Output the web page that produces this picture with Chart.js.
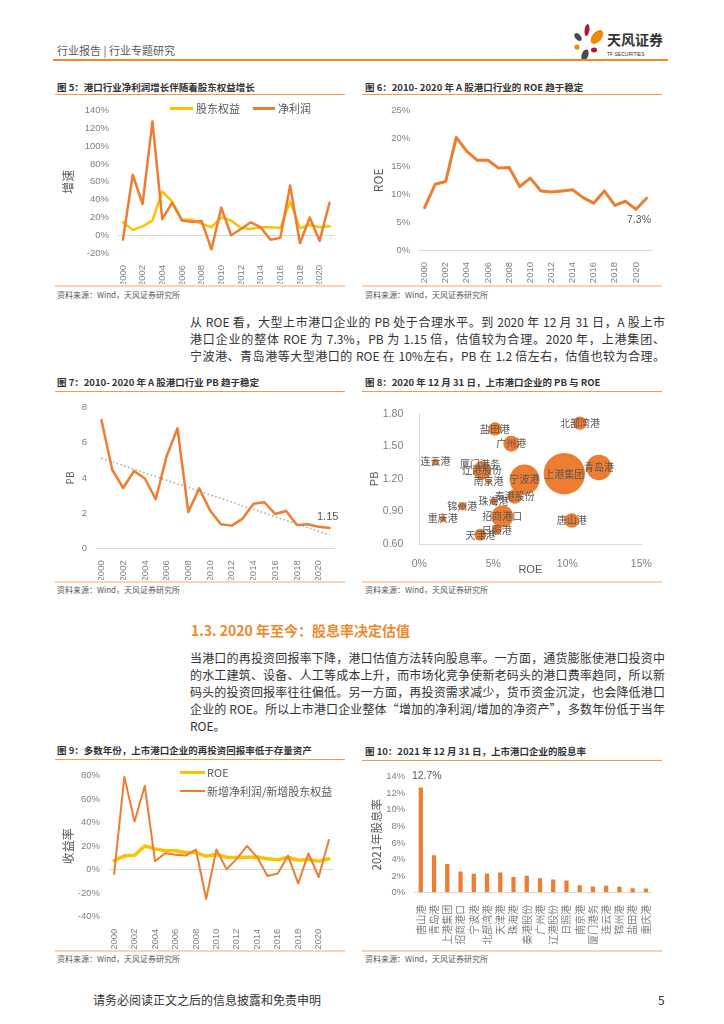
<!DOCTYPE html>
<html>
<head>
<meta charset="utf-8">
<script src="https://cdn.jsdelivr.net/npm/chart.js@4.4.1/dist/chart.umd.min.js"></script>
<style>
  body { margin: 0; width: 724px; height: 1024px; position: relative; background: #fff; overflow: hidden;
         font-family: "Noto Sans CJK SC", "Liberation Sans", sans-serif; color: #333; }
  .abs { position: absolute; white-space: nowrap; }
  .ftitle { position: absolute; white-space: nowrap; font-size: 9.5px; font-weight: bold; color: #333; line-height: 12px; height: 12px; }
  .tline { position: absolute; height: 1px; background: #F39A4B; }
  .bline { position: absolute; height: 2px; background: #F9D3B4; }
  .src { position: absolute; white-space: nowrap; font-size: 8px; color: #595959; line-height: 10px; }
  .para { position: absolute; left: 190px; width: 475px; font-size: 12px; line-height: 16px; height: 16px;
          text-align: justify; text-align-last: justify; color: #333; }
  .leg { position: absolute; white-space: nowrap; font-size: 11px; color: #595959; line-height: 14px; }
  .legline { position: absolute; }
  canvas { position: absolute; }
</style>
</head>
<body>

<svg class="abs" style="left:0;top:0" width="724" height="70">
  <ellipse cx="587" cy="30" rx="2.4" ry="6" fill="#B5173A" transform="rotate(8 587 30)"/>
  <ellipse cx="597" cy="37" rx="4.8" ry="8" fill="#F08A00" transform="rotate(40 597 37)"/>
  <ellipse cx="578" cy="37" rx="2.8" ry="4.5" fill="#4A4A4A" transform="rotate(-40 578 37)"/>
  <circle cx="577" cy="47" r="2.6" fill="#F08A00"/>
  <ellipse cx="594" cy="50" rx="3" ry="2.4" fill="#B5173A"/>
  <ellipse cx="585" cy="55" rx="3.3" ry="5.8" fill="#4A4A4A" transform="rotate(20 585 55)"/>
  <text x="607" y="45" font-size="14" font-weight="bold" fill="#333" font-family="Noto Sans CJK SC">天风证券</text>
  <text x="607" y="56" font-size="5" fill="#333" font-family="Liberation Sans">TF SECURITIES</text>
</svg>
<div class="abs" style="left:57px;top:43px;font-size:11px;line-height:14px;color:#595959">行业报告 | 行业专题研究</div>
<div class="abs" style="left:53px;top:59px;width:615px;height:2px;background:#F08B24"></div>

<div class="ftitle" style="left:57px;top:81px">图 5：港口行业净利润增长伴随着股东权益增长</div>
<div class="tline" style="left:55px;top:94px;width:290px"></div>
<div class="ftitle" style="left:365px;top:81px">图 6：2010- 2020 年 A 股港口行业的 ROE 趋于稳定</div>
<div class="tline" style="left:362px;top:94px;width:300px"></div>
<canvas id="c5" width="290" height="188" style="left:55px;top:96px;width:290px;height:188px"></canvas>
<canvas id="c6" width="300" height="188" style="left:362px;top:96px;width:300px;height:188px"></canvas>
<div class="legline" style="left:170px;top:107px;width:23px;height:2.5px;background:#FFC000"></div>
<div class="leg" style="left:196px;top:101px">股东权益</div>
<div class="legline" style="left:253px;top:107px;width:22px;height:2.5px;background:#ED7D31"></div>
<div class="leg" style="left:278px;top:101px">净利润</div>
<div class="bline" style="left:55px;top:285px;width:290px"></div>
<div class="bline" style="left:362px;top:285px;width:300px"></div>
<div class="src" style="left:57px;top:290px">资料来源：Wind，天风证券研究所</div>
<div class="src" style="left:365px;top:290px">资料来源：Wind，天风证券研究所</div>

<div class="para" style="top:314px">从 ROE 看，大型上市港口企业的 PB 处于合理水平。到 2020 年 12 月 31 日，A 股上市</div>
<div class="para" style="top:331px">港口企业的整体 ROE 为 7.3%，PB 为 1.15 倍，估值较为合理。2020 年，上港集团、</div>
<div class="para" style="top:348px">宁波港、青岛港等大型港口的 ROE 在 10%左右，PB 在 1.2 倍左右，估值也较为合理。</div>

<div class="ftitle" style="left:57px;top:376px">图 7：2010- 2020 年 A 股港口行业 PB 趋于稳定</div>
<div class="tline" style="left:55px;top:391px;width:290px"></div>
<div class="ftitle" style="left:365px;top:376px">图 8：2020 年 12 月 31 日，上市港口企业的 PB 与 ROE</div>
<div class="tline" style="left:362px;top:391px;width:300px"></div>
<canvas id="c7" width="290" height="187" style="left:55px;top:393px;width:290px;height:187px"></canvas>
<canvas id="c8" width="300" height="187" style="left:362px;top:393px;width:300px;height:187px"></canvas>
<div class="bline" style="left:55px;top:581px;width:290px"></div>
<div class="bline" style="left:362px;top:581px;width:300px"></div>
<div class="src" style="left:57px;top:585px">资料来源：Wind，天风证券研究所</div>
<div class="src" style="left:365px;top:585px">资料来源：Wind，天风证券研究所</div>

<div class="abs" style="left:191px;top:621px;font-size:14px;line-height:19px;font-weight:bold;color:#EE8A2E">1.3. 2020 年至今：股息率决定估值</div>
<div class="para" style="top:650px">当港口的再投资回报率下降，港口估值方法转向股息率。一方面，通货膨胀使港口投资中</div>
<div class="para" style="top:667px">的水工建筑、设备、人工等成本上升，而市场化竞争使新老码头的港口费率趋同，所以新</div>
<div class="para" style="top:684px">码头的投资回报率往往偏低。另一方面，再投资需求减少，货币资金沉淀，也会降低港口</div>
<div class="para" style="top:701px">企业的 ROE。所以上市港口企业整体“增加的净利润/增加的净资产”，多数年份低于当年</div>
<div class="para" style="top:718px;text-align-last:left">ROE。</div>

<div class="ftitle" style="left:57px;top:744px">图 9：多数年份，上市港口企业的再投资回报率低于存量资产</div>
<div class="tline" style="left:55px;top:759px;width:290px"></div>
<div class="ftitle" style="left:365px;top:745px">图 10：2021 年 12 月 31 日，上市港口企业的股息率</div>
<div class="tline" style="left:362px;top:760px;width:300px"></div>
<canvas id="c9" width="290" height="188" style="left:55px;top:761px;width:290px;height:188px"></canvas>
<canvas id="c10" width="300" height="187" style="left:362px;top:762px;width:300px;height:187px"></canvas>
<div class="legline" style="left:180px;top:770.5px;width:25px;height:3px;background:#FFC000"></div>
<div class="leg" style="left:207px;top:765px">ROE</div>
<div class="legline" style="left:180px;top:790px;width:25px;height:2px;background:#ED7D31"></div>
<div class="leg" style="left:207px;top:784px">新增净利润/新增股东权益</div>
<div class="bline" style="left:55px;top:950px;width:290px"></div>
<div class="bline" style="left:362px;top:950px;width:300px"></div>
<div class="src" style="left:57px;top:954px">资料来源：Wind，天风证券研究所</div>
<div class="src" style="left:365px;top:954px">资料来源：Wind，天风证券研究所</div>

<div class="abs" style="left:93px;top:992px;font-size:12px;line-height:16px;color:#333">请务必阅读正文之后的信息披露和免责申明</div>
<div class="abs" style="left:658px;top:992px;font-size:12px;line-height:16px;color:#333">5</div>

<script>
// ---- data ----
const years = ['2000','2001','2002','2003','2004','2005','2006','2007','2008','2009','2010',
               '2011','2012','2013','2014','2015','2016','2017','2018','2019','2020','2021'];

// fig 5: growth rates, %
const equityGrowth = [14.5, 6, 10, 16.5, 49, 38, 17.5, 17.5, 13, 9, 20, 16.5, 8, 7, 9, 9, 8, 38, 8, 11.5, 9, 10];
const profitGrowth = [-5, 68, 35, 128, 18, 36.5, 16.5, 15, 16, -16, 31, 0, 7, 14.5, 9, -5, -3, 56, -9, 20, -6.5, 36.5];

// fig 6 / fig 9: industry ROE, %
const industryRoe = [7.6, 11.8, 12.3, 20.2, 17.7, 16.1, 16.1, 14.7, 14.8, 11.4, 12.9, 10.6, 10.4, 10.6, 10.8, 9.4, 8.4, 10.6, 8.0, 8.75, 7.3, 9.3];

// fig 7: industry PB
const industryPb = [7.3, 4.46, 3.43, 4.4, 3.97, 2.79, 5.24, 6.83, 2.06, 3.41, 2.15, 1.37, 1.29, 1.69, 2.53, 2.62, 1.95, 2.12, 1.33, 1.37, 1.22, 1.15];

// fig 9: new net profit / new equity, %
const reinvestReturn = [-3.5, 79, 41, 71.4, 7.3, 14, 12.7, 12, 17.2, -25, 17.2, 0.3, 9.4, 20.2, 10.5, -5.4, -3.2, 11.9, -11.6, 14, -6.2, 25.3];

// fig 8: port companies, ROE %, PB, bubble size (relative market value)
const ports    = ['北部湾港','盐田港','广州港','连云港','厦门港务','辽港股份','南京港','宁波港','上港集团',
                  '青岛港','秦港股份','珠海港','锦州港','招商港口','重庆港','唐山港','日照港','天津港'];
const portRoe  = [10.85, 5.12, 6.22, 1.09, 4.10, 4.24, 4.68, 7.11, 9.80, 12.14, 6.45, 5.01, 2.91, 5.61, 1.59, 10.3, 5.23, 4.13];
const portPb   = [1.713, 1.66, 1.524, 1.358, 1.334, 1.276, 1.174, 1.194, 1.247, 1.305, 1.037, 0.993, 0.947, 0.853, 0.833, 0.816, 0.731, 0.685];
const portSize = [105, 105, 149, 25, 21, 202, 15, 525, 1000, 376, 124, 25, 37, 282, 25, 124, 58, 84];

// fig 10: dividend yield 2021, %
const divPorts = ['唐山港','青岛港','上港集团','招商港口','宁波港','北部湾港','天津港','珠海港','秦港股份',
                  '广州港','辽港股份','日照港','南京港','厦门港务','连云港','锦州港','盐田港','重庆港'];
const divYield = [12.7, 4.53, 3.47, 2.56, 2.29, 2.33, 2.44, 1.89, 2.05, 1.73, 1.58, 1.46, 0.91, 0.75, 0.83, 0.71, 0.55, 0.51];

const ORANGE = '#ED7D31';
const YELLOW = '#FFC000';
const TICK = '#7F7F7F';
const LABEL = '#595959';

Chart.defaults.font.family = '"Liberation Sans", "Noto Sans CJK SC", sans-serif';
Chart.defaults.animation = false;

// linear trend for fig 7 (least squares, like the spreadsheet trendline)
function trend(vals) {
  const n = vals.length, mx = (n - 1) / 2;
  const my = vals.reduce((a, b) => a + b, 0) / n;
  let sxy = 0, sxx = 0;
  vals.forEach((v, i) => { sxy += (i - mx) * (v - my); sxx += (i - mx) * (i - mx); });
  const k = sxy / sxx;
  return vals.map((v, i) => my + k * (i - mx));
}

const textLabels = {
  id: 'textLabels',
  afterDatasetsDraw(chart, args, opts) {
    const ctx = chart.ctx;
    ctx.save();
    ctx.font = opts.font;
    ctx.fillStyle = opts.color || LABEL;
    ctx.textAlign = 'center';
    ctx.textBaseline = 'middle';
    opts.items.forEach(it => {
      const el = chart.getDatasetMeta(it.dataset || 0).data[it.index];
      ctx.fillText(it.text, el.x + (it.dx || 0), el.y + (it.dy || 0));
    });
    ctx.restore();
  }
};

function zeroGrid(ctx) {
  return ctx.tick && ctx.tick.value === 0 ? '#D9D9D9' : 'rgba(0,0,0,0)';
}

function yearAxis(h) {
  return {
    offset: true,
    grid: { display: false },
    border: { display: false },
    afterFit: s => { s.height = h; },
    ticks: {
      color: TICK, font: { size: 9.5 }, autoSkip: false, minRotation: 90, maxRotation: 90, padding: 4,
      callback: (v, i) => (i % 2 === 0 ? years[i] : '')
    }
  };
}

function valueAxis(o) {
  return {
    min: o.min, max: o.max,
    afterFit: s => { s.width = o.width; },
    grid: { color: zeroGrid, drawTicks: false, lineWidth: 1 },
    border: { display: false },
    ticks: {
      stepSize: o.step, color: TICK, font: { size: 9.5 }, padding: o.pad,
      callback: v => (o.pct ? v + '%' : v)
    },
    title: {
      display: true, text: o.title, color: LABEL,
      font: { size: o.titleSize, family: '"Noto Sans CJK SC", "Liberation Sans", sans-serif' },
      padding: { top: o.titlePad, bottom: 0 }
    }
  };
}

function lineSet(data, color, width, order) {
  return {
    data, borderColor: color, backgroundColor: color, borderWidth: width, order,
    pointRadius: 0, tension: 0, borderJoinStyle: 'round', borderCapStyle: 'round'
  };
}

// fig 5
new Chart(document.getElementById('c5'), {
  type: 'line',
  data: {
    labels: years,
    datasets: [
      lineSet(equityGrowth, YELLOW, 2.5, 1),
      lineSet(profitGrowth, ORANGE, 2.5, 0)
    ]
  },
  options: {
    responsive: false,
    layout: { padding: { top: 7, right: 5.6, left: 0, bottom: 0 } },
    plugins: { legend: { display: false }, tooltip: { enabled: false } },
    scales: {
      x: yearAxis(31),
      y: valueAxis({ min: -20, max: 140, step: 20, pct: true, width: 63, pad: 9, title: '增速', titleSize: 12, titlePad: 6 })
    }
  }
});

// fig 6
new Chart(document.getElementById('c6'), {
  type: 'line',
  data: { labels: years, datasets: [lineSet(industryRoe, ORANGE, 3, 0)] },
  options: {
    responsive: false,
    layout: { padding: { top: 8, right: 1, left: 0, bottom: 0 } },
    plugins: {
      legend: { display: false }, tooltip: { enabled: false },
      textLabels: { font: '10.5px "Liberation Sans"', color: LABEL, items: [{ index: 20, text: '7.3%', dx: 3, dy: 11 }] }
    },
    scales: {
      x: yearAxis(34),
      y: valueAxis({ min: 0, max: 25, step: 5, pct: true, width: 57.3, pad: 9, title: 'ROE', titleSize: 12, titlePad: 9 })
    }
  },
  plugins: [textLabels]
});

// fig 7
new Chart(document.getElementById('c7'), {
  type: 'line',
  data: {
    labels: years,
    datasets: [
      lineSet(industryPb, ORANGE, 2.5, 0),
      Object.assign(lineSet(trend(industryPb), '#A6A6A6', 1.5, 1), { borderDash: [1.5, 2.5], borderCapStyle: 'butt' })
    ]
  },
  options: {
    responsive: false,
    layout: { padding: { top: 13, right: 1.5, left: 0, bottom: 0 } },
    plugins: {
      legend: { display: false }, tooltip: { enabled: false },
      textLabels: { font: '11px "Liberation Sans"', color: LABEL, items: [{ index: 20, text: '1.15', dx: 9, dy: -10 }] }
    },
    scales: {
      x: yearAxis(31.7),
      y: valueAxis({ min: 0, max: 8, step: 2, pct: false, width: 41, pad: 9, title: 'PB', titleSize: 10, titlePad: 9 })
    }
  },
  plugins: [textLabels]
});

// fig 8
new Chart(document.getElementById('c8'), {
  type: 'bubble',
  data: {
    datasets: [{
      data: ports.map((p, i) => ({ x: portRoe[i], y: portPb[i], r: 20.7 * Math.sqrt(portSize[i] / 1000) })),
      backgroundColor: ORANGE, borderColor: ORANGE, borderWidth: 0
    }]
  },
  options: {
    responsive: false,
    layout: { padding: { top: 13.7, right: 16, left: 0, bottom: 0 } },
    plugins: {
      legend: { display: false }, tooltip: { enabled: false },
      textLabels: {
        font: '10px "Noto Sans CJK SC"', color: LABEL,
        items: ports.map((p, i) => ({ index: i, text: p }))
      }
    },
    scales: {
      x: {
        type: 'linear', min: 0, max: 15,
        afterFit: s => { s.height = 36; },
        grid: { display: false },
        border: { display: true, color: '#D9D9D9' },
        ticks: { stepSize: 5, color: TICK, font: { size: 10.5 }, padding: 6, callback: v => v + '%' },
        title: { display: true, text: 'ROE', color: LABEL, font: { size: 11 }, padding: { top: 0, bottom: 3 } }
      },
      y: {
        type: 'linear', min: 0.6, max: 1.8,
        afterFit: s => { s.width = 57.3; },
        grid: { display: false },
        border: { display: true, color: '#D9D9D9' },
        ticks: { stepSize: 0.3, color: TICK, font: { size: 10.5 }, padding: 8, callback: v => v.toFixed(2) },
        title: { display: true, text: 'PB', color: LABEL, font: { size: 11 }, padding: { top: 6, bottom: 0 } }
      }
    }
  },
  plugins: [textLabels]
});

// fig 9
new Chart(document.getElementById('c9'), {
  type: 'line',
  data: {
    labels: years,
    datasets: [
      lineSet(industryRoe, YELLOW, 3.5, 1),
      lineSet(reinvestReturn, ORANGE, 2, 0)
    ]
  },
  options: {
    responsive: false,
    layout: { padding: { top: 7.3, right: 11, left: 0, bottom: 0 } },
    plugins: { legend: { display: false }, tooltip: { enabled: false } },
    scales: {
      x: yearAxis(32.3),
      y: valueAxis({ min: -40, max: 80, step: 20, pct: true, width: 54, pad: 9, title: '收益率', titleSize: 12, titlePad: 6 })
    }
  }
});

// fig 10
new Chart(document.getElementById('c10'), {
  type: 'bar',
  data: {
    labels: divPorts,
    datasets: [{ data: divYield, backgroundColor: ORANGE, barPercentage: 0.32, categoryPercentage: 1 }]
  },
  options: {
    responsive: false,
    layout: { padding: { top: 12.3, right: 3, left: 0, bottom: 0 } },
    plugins: {
      legend: { display: false }, tooltip: { enabled: false },
      textLabels: { font: '10.5px "Liberation Sans"', color: LABEL, items: [{ index: 0, text: '12.7%', dx: 6, dy: -11 }] }
    },
    scales: {
      x: {
        grid: { display: false },
        border: { display: false },
        afterFit: s => { s.height = 56.3; },
        ticks: {
          color: TICK, autoSkip: false, minRotation: 90, maxRotation: 90, padding: 4,
          font: { size: 10, family: '"Noto Sans CJK SC", sans-serif' }
        }
      },
      y: valueAxis({ min: 0, max: 14, step: 2, pct: true, width: 52.2, pad: 9, title: '2021年股息率', titleSize: 11.5, titlePad: 8 })
    }
  },
  plugins: [textLabels]
});
</script>
</body>
</html>
